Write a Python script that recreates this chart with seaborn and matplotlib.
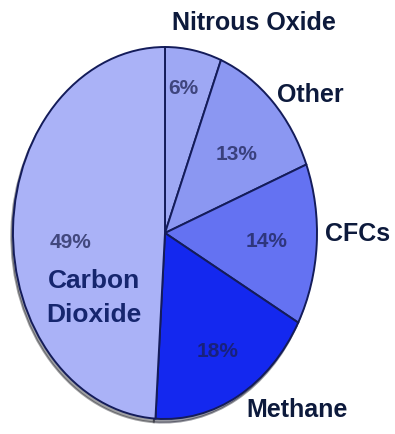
import matplotlib
matplotlib.use("Agg")
import matplotlib.pyplot as plt
import seaborn as sns

# data (clockwise from 12 o'clock)
gases = ["Nitrous Oxide", "Other", "CFCs", "Methane", "Carbon Dioxide"]
shares = [6, 13, 14, 18, 49]
colors = ["#9ea8f4", "#8b97f2", "#6472f2", "#1428ef", "#aab2f7"]

# label placement in pixels of the 395x435 image (layout only)
name_pos = {"Nitrous Oxide": (254, 23), "Other": (310, 95), "CFCs": (358, 234),
            "Methane": (297, 410), "Carbon Dioxide": (94, 298)}
pct_pos = {"Nitrous Oxide": (183, 88), "Other": (237, 155), "CFCs": (267, 242),
           "Methane": (218, 352), "Carbon Dioxide": (71, 243)}

sns.set_theme(style="white")
plt.rcParams["font.family"] = ["Liberation Sans", "DejaVu Sans"]

W, H = 395, 435
fig = plt.figure(figsize=(W / 100, H / 100), dpi=100)
ax = fig.add_axes([0, 0, 1, 1])

# pie ellipse: centre (165, 234) px, rx 152, ry 186
cx, cy, rx, ry = 165, 234, 152, 186
ax.pie(shares, colors=colors, startangle=90, counterclock=False,
       wedgeprops=dict(edgecolor="#141c5a", linewidth=1.4),
       shadow=dict(ox=-0.008, oy=-0.014, shade=0.9, alpha=0.4))
ax.set_aspect("auto")
ax.set_xlim(-cx / rx, (W - cx) / rx)
ax.set_ylim(-(H - cy) / ry, cy / ry)
ax.axis("off")

def fig_xy(p):
    return p[0] / W, 1 - p[1] / H

for g, v in zip(gases, shares):
    x, y = fig_xy(pct_pos[g])
    fig.text(x, y, f"{v}%", ha="center", va="center", fontsize=15,
             fontweight="bold", color="#1a1f50", alpha=0.72)
    x, y = fig_xy(name_pos[g])
    if g == "Carbon Dioxide":
        fig.text(x, y, "Carbon\nDioxide", ha="center", va="center", fontsize=19,
                 fontweight="bold", color="#16266e", linespacing=1.55)
    else:
        fig.text(x, y, g, ha="center", va="center", fontsize=18,
                 fontweight="bold", color="#0d1a3c")

fig.savefig("out.png", dpi=100)
